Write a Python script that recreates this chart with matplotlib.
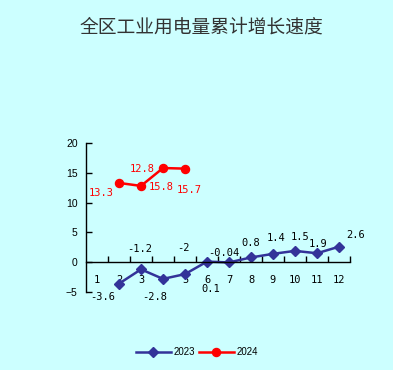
import matplotlib
matplotlib.use('Agg')
import matplotlib.pyplot as plt
from matplotlib.ticker import FixedLocator

plt.rcParams['font.family'] = ['Noto Sans CJK SC', 'DejaVu Sans']

TITLE = '全区工业用电量累计增长速度'
months = list(range(1, 13))

# 2023 series, months 2..12
x23 = [2, 3, 4, 5, 6, 7, 8, 9, 10, 11, 12]
y23 = [-3.6, -1.2, -2.8, -2, 0.1, -0.04, 0.8, 1.4, 1.9, 1.5, 2.6]
lab23 = ['-3.6', '-1.2', '-2.8', '-2', '0.1', '-0.04', '0.8', '1.4', '1.5', '1.9', '2.6']

# 2024 series, months 2..5
x24 = [2, 3, 4, 5]
y24 = [13.3, 12.8, 15.8, 15.7]
lab24 = ['13.3', '12.8', '15.8', '15.7']

# label offsets in pixels (dx right, dy down) as placed in the original
off23 = [(-16, 13), (-1, -20), (-8, 18), (-2, -26), (4, 27), (-5, -9),
         (0, -14), (3, -16), (5, -14), (1, -9), (17, -12)]
off24 = [(-18, 10), (1, -17), (-2, 19), (4, 21)]

BG = '#CCFFFF'
C23 = '#333399'
C24 = '#FF0000'

fig = plt.figure(figsize=(3.93, 3.70), dpi=100, facecolor=BG)
ax = fig.add_axes([86/393, 78/370, 264/393, 149/370])
ax.set_facecolor('none')

ax.plot(x23, y23, color=C23, marker='D', markersize=5, linewidth=1.8, label='2023')
ax.plot(x24, y24, color=C24, marker='o', markersize=5.8, linewidth=1.8, label='2024')

px = 72 / 100  # pixels -> points
for x, y, t, (dx, dy) in zip(x23, y23, lab23, off23):
    ax.annotate(t, (x, y), xytext=(dx*px, -dy*px), textcoords='offset points',
                ha='center', va='center', fontsize=7.5, family='DejaVu Sans Mono', color='black')
for x, y, t, (dx, dy) in zip(x24, y24, lab24, off24):
    ax.annotate(t, (x, y), xytext=(dx*px, -dy*px), textcoords='offset points',
                ha='center', va='center', fontsize=7.5, family='DejaVu Sans Mono', color=C24)

ax.set_xlim(0.5, 12.5)
ax.set_ylim(-5, 20)
ax.spines['top'].set_visible(False)
ax.spines['right'].set_visible(False)
ax.spines['bottom'].set_position(('data', 0))
for s in ('left', 'bottom'):
    ax.spines[s].set_linewidth(1)
    ax.spines[s].set_color('black')

ax.set_yticks([-5, 0, 5, 10, 15, 20])
ax.tick_params(axis='y', direction='in', length=4, width=1, pad=6, labelsize=7.5)
for lbl in ax.get_yticklabels():
    lbl.set_family('Liberation Sans')

ax.xaxis.set_major_locator(FixedLocator([m + 0.5 for m in months]))
ax.xaxis.set_minor_locator(FixedLocator(months))
ax.xaxis.set_major_formatter(plt.NullFormatter())
ax.set_xticks(months, [str(m) for m in months], minor=True)
ax.tick_params(axis='x', which='major', direction='in', length=4, width=1)
ax.tick_params(axis='x', which='minor', length=0, pad=9, labelsize=7.5)
for lbl in ax.get_xticklabels(minor=True):
    lbl.set_family('DejaVu Sans Mono')

fig.text(201/393, 1 - 27/370, TITLE, ha='center', va='center', fontsize=13.5, color='#333333')

fig.legend(loc='center', bbox_to_anchor=(197/393, 1 - 352/370), ncol=2, frameon=False,
           handlelength=3.6, handletextpad=0.3, columnspacing=0.4,
           prop={'family': 'Liberation Sans', 'size': 7})

fig.savefig('out.png', dpi=100, facecolor=BG)
